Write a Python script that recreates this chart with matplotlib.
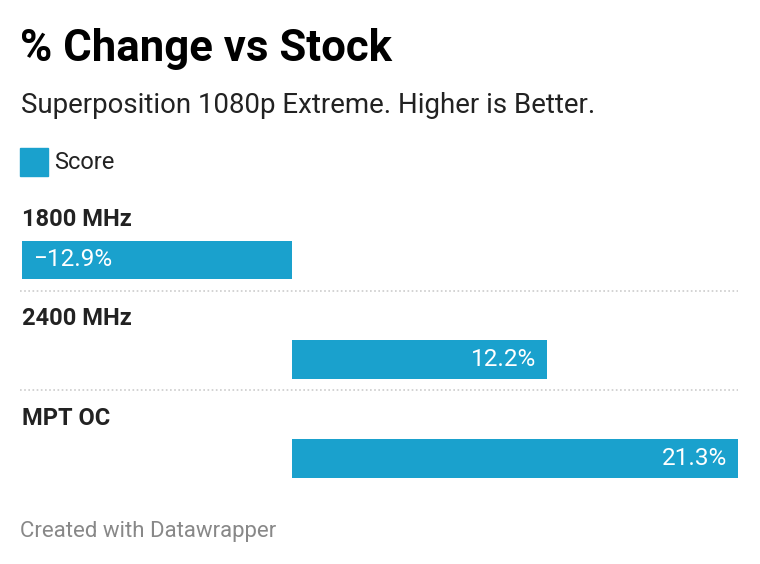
import matplotlib
matplotlib.use("Agg")
from matplotlib import pyplot as plt
from matplotlib.patches import Rectangle

# data
categories = ["1800 MHz", "2400 MHz", "MPT OC"]
scores = [-12.9, 12.2, 21.3]
value_labels = ["\u221212.9%", "12.2%", "21.3%"]

BAR_COLOR = "#1aa1cd"
W, H = 760, 564

plt.rcParams["font.family"] = ["Roboto", "DejaVu Sans"]

fig = plt.figure(figsize=(W / 100, H / 100), dpi=100)


def fx(px):
    return px / W


def fy(py):
    return 1 - py / H


# header
fig.text(fx(20), fy(61), "% Change vs Stock", fontsize=31.5, fontweight="bold",
         color="#000000", va="baseline", ha="left")
fig.text(fx(21), fy(113), "Superposition 1080p Extreme. Higher is Better.",
         fontsize=19.9, color="#222222", va="baseline", ha="left")

# legend
fig.patches.append(Rectangle((fx(20), fy(176)), fx(28), 28 / H,
                             transform=fig.transFigure, color=BAR_COLOR))
fig.text(fx(54), fy(169), "Score", fontsize=17, color="#222222",
         va="baseline", ha="left")

# bars
ax = fig.add_axes([fx(22), fy(488.25), fx(738) - fx(22), 297.75 / H])
pos = list(range(len(categories)))
ax.barh(pos, scores, height=0.39, color=BAR_COLOR)
ax.set_xlim(min(scores), max(scores))
ax.set_ylim(2.3, -0.7)
ax.axis("off")

for i, (cat, val, lab) in enumerate(zip(categories, scores, value_labels)):
    ax.text(0, i - 0.34, cat, transform=ax.get_yaxis_transform(),
            fontsize=17, fontweight="bold", color="#222222",
            va="baseline", ha="left")
    if val < 0:
        ax.annotate(lab, (val, i), xytext=(8, 0), textcoords="offset points",
                    ha="left", va="center", color="white", fontsize=17.5)
    else:
        ax.annotate(lab, (val, i), xytext=(-8, 0), textcoords="offset points",
                    ha="right", va="center", color="white", fontsize=17.5)
    if i < len(categories) - 1:
        ax.plot([-0.003, 1], [i + 0.31, i + 0.31], transform=ax.get_yaxis_transform(),
                color="#cccccc", linestyle=(0, (1, 1.5)), linewidth=1.2,
                clip_on=False)

# footer
fig.text(fx(20), fy(537), "Created with Datawrapper", fontsize=16,
         color="#888888", va="baseline", ha="left")

fig.savefig("out.png", dpi=100, facecolor="white")
